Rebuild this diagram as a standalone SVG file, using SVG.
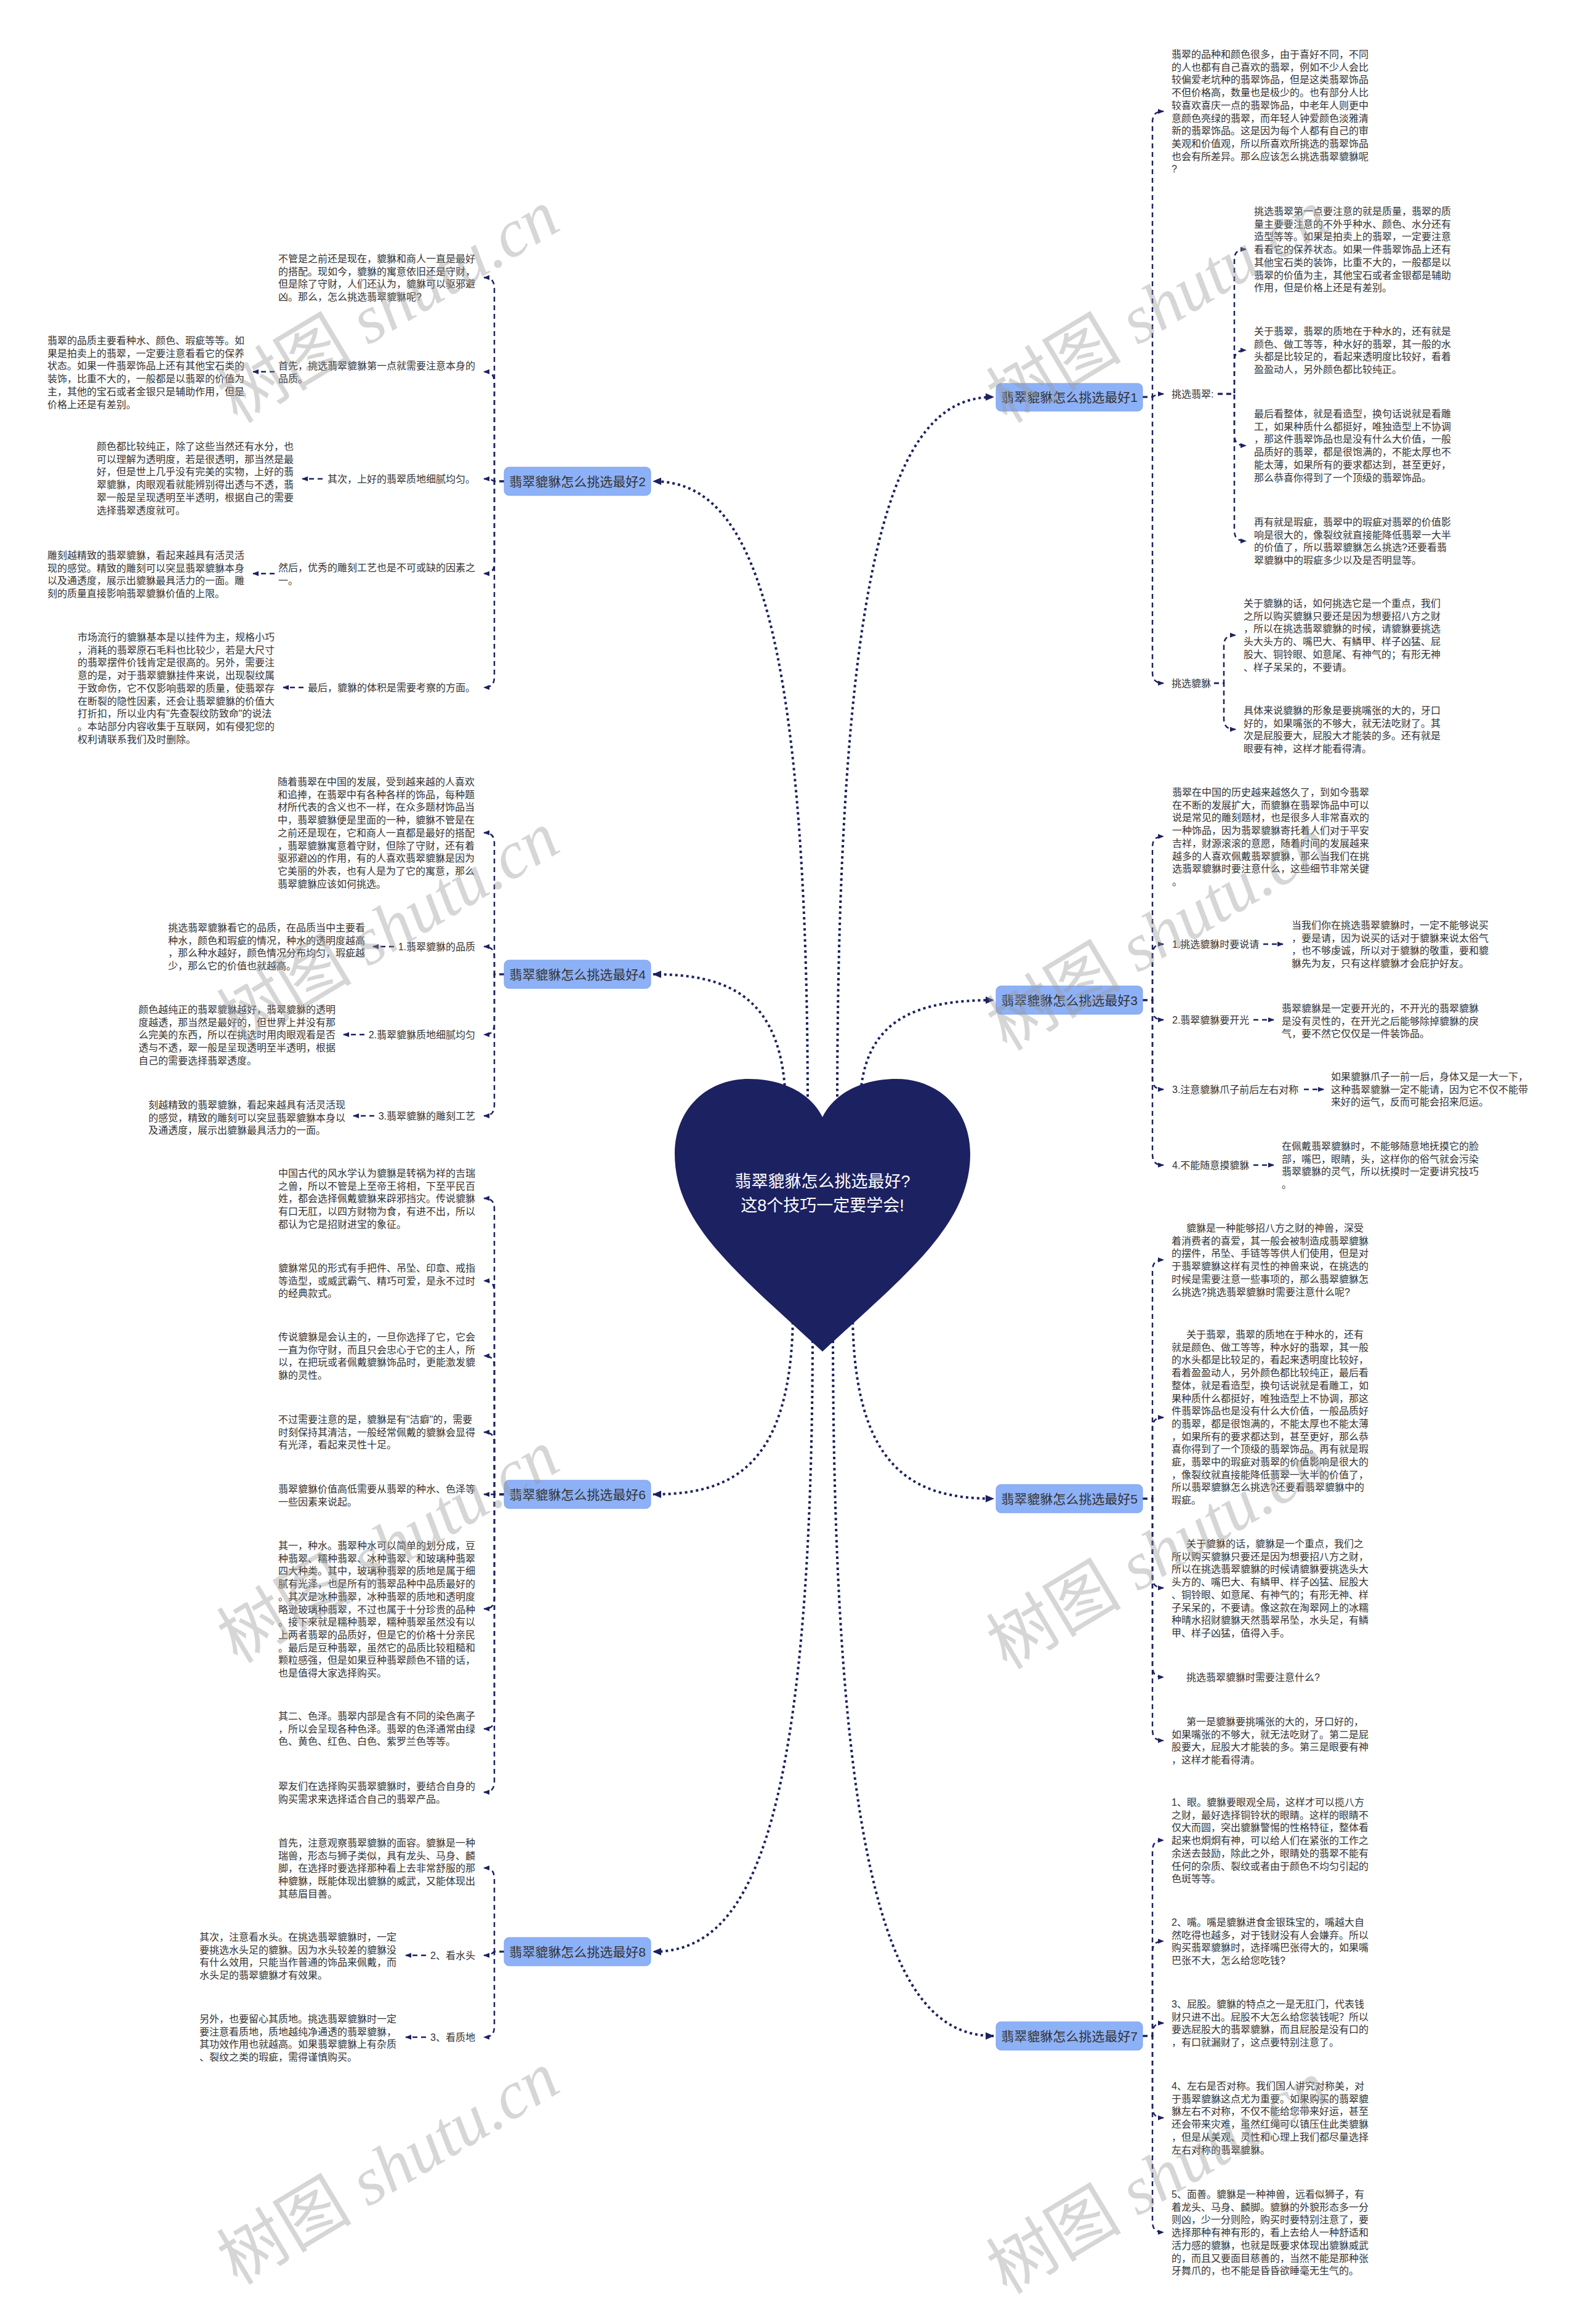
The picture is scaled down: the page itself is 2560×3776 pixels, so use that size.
<svg xmlns="http://www.w3.org/2000/svg" width="2560" height="3776" viewBox="0 0 2560 3776">
<style>
text{font-family:"Liberation Sans","Noto Sans CJK SC",sans-serif}
.p{font-size:16px;fill:#333}
.e{font-size:16px;fill:#333;text-anchor:end}
.n{font-size:21px;fill:#333;text-anchor:middle}
.t{font-size:27px;fill:#fff;text-anchor:middle}
.c{fill:none;stroke:#1c2161;stroke-width:2.5;stroke-dasharray:8 6;marker-end:url(#a)}
.m{fill:none;stroke:#1c2161;stroke-width:4;stroke-dasharray:4 5;marker-end:url(#b)}
.nb{fill:#8db1f7;stroke:#7ea3ee;stroke-width:1}
.w{font-family:"Liberation Serif","Noto Sans CJK SC",serif;font-size:110px;fill:#9a9a9a;opacity:.4;text-anchor:middle}
</style>
<defs>
<marker id="a" markerWidth="10" markerHeight="8" refX="9" refY="4" orient="auto" markerUnits="userSpaceOnUse"><path d="M0,0 L10,4 L0,8 Z" fill="#1c2161"/></marker>
<marker id="b" markerWidth="14" markerHeight="12" refX="13" refY="6" orient="auto" markerUnits="userSpaceOnUse"><path d="M0,0 L14,6 L0,12 Z" fill="#1c2161"/></marker>
</defs>
<rect width="2560" height="3776" fill="#fff"/>
<g id="connectors">
<path class="m" d="M1312 1800C1312 935 1199 782 1061 782"/>
<path class="m" d="M1276 1800C1276 1616 1179 1583 1061 1583"/>
<path class="m" d="M1360 1800C1360 818 1474 645 1614 645"/>
<path class="m" d="M1397 1800C1397 1651 1495 1625 1614 1625"/>
<path class="m" d="M1288 2130C1288 2386 1186 2428 1061 2428"/>
<path class="m" d="M1320 2160C1320 3018 1204 3171 1061 3171"/>
<path class="m" d="M1385 2130C1385 2392 1488 2435 1614 2435"/>
<path class="m" d="M1353 2160C1353 3134 1471 3308 1614 3308"/>
<path class="c" d="M1856 645H1872V199C1872 186 1877 181 1890 181"/>
<path class="c" d="M1856 645H1872Q1878 640 1890 640"/>
<path class="c" d="M1856 645H1872V1092C1872 1105 1877 1110 1890 1110"/>
<path class="c" d="M1978 640H2005V423C2005 410 2010 405 2024 405"/>
<path class="c" d="M1978 640H2005V587C2005 574 2010 569 2024 569"/>
<path class="c" d="M1978 640H2005V706C2005 719 2010 724 2024 724"/>
<path class="c" d="M1978 640H2005V861C2005 874 2010 879 2024 879"/>
<path class="c" d="M1972 1110H1988V1050C1988 1037 1993 1032 2007 1032"/>
<path class="c" d="M1972 1110H1988V1167C1988 1180 1993 1185 2007 1185"/>
<path class="c" d="M1856 1625H1872V1377C1872 1364 1877 1359 1890 1359"/>
<path class="c" d="M1856 1625H1872V1552C1872 1539 1877 1534 1890 1534"/>
<path class="c" d="M1856 1625H1872V1639C1872 1652 1877 1657 1890 1657"/>
<path class="c" d="M1856 1625H1872V1752C1872 1765 1877 1770 1890 1770"/>
<path class="c" d="M1856 1625H1872V1875C1872 1888 1877 1893 1890 1893"/>
<path class="c" d="M2052 1534H2084"/>
<path class="c" d="M2036 1657H2069"/>
<path class="c" d="M2118 1770H2150"/>
<path class="c" d="M2036 1893H2069"/>
<path class="c" d="M1856 2435H1872V2065C1872 2052 1877 2047 1890 2047"/>
<path class="c" d="M1856 2435H1872V2321C1872 2308 1877 2303 1890 2303"/>
<path class="c" d="M1856 2435H1872V2562C1872 2575 1877 2580 1890 2580"/>
<path class="c" d="M1856 2435H1872V2707C1872 2720 1877 2725 1890 2725"/>
<path class="c" d="M1856 2435H1872V2810C1872 2823 1877 2828 1890 2828"/>
<path class="c" d="M1856 3308H1872V3008C1872 2995 1877 2990 1890 2990"/>
<path class="c" d="M1856 3308H1872V3172C1872 3159 1877 3154 1890 3154"/>
<path class="c" d="M1856 3308H1872V3305C1872 3292 1877 3287 1890 3287"/>
<path class="c" d="M1856 3308H1872V3423C1872 3436 1877 3441 1890 3441"/>
<path class="c" d="M1856 3308H1872V3609C1872 3622 1877 3627 1890 3627"/>
<path class="c" d="M819 782H803V469C803 456 798 451 786 451"/>
<path class="c" d="M819 782H803V622C803 609 798 604 786 604"/>
<path class="c" d="M819 782H803Q797 778 786 778"/>
<path class="c" d="M819 782H803V914C803 927 798 932 786 932"/>
<path class="c" d="M819 782H803V1099C803 1112 798 1117 786 1117"/>
<path class="c" d="M446 604H411"/>
<path class="c" d="M524 778H491"/>
<path class="c" d="M446 932H411"/>
<path class="c" d="M493 1117H460"/>
<path class="c" d="M819 1583H803V1371C803 1358 798 1353 786 1353"/>
<path class="c" d="M819 1583H803V1556C803 1543 798 1538 786 1538"/>
<path class="c" d="M819 1583H803V1663C803 1676 798 1681 786 1681"/>
<path class="c" d="M819 1583H803V1795C803 1808 798 1813 786 1813"/>
<path class="c" d="M640 1538H606"/>
<path class="c" d="M592 1681H558"/>
<path class="c" d="M608 1813H574"/>
<path class="c" d="M819 2428H803V1965C803 1952 798 1947 786 1947"/>
<path class="c" d="M819 2428H803V2099C803 2086 798 2081 786 2081"/>
<path class="c" d="M819 2428H803V2221C803 2208 798 2203 786 2203"/>
<path class="c" d="M819 2428H803V2345C803 2332 798 2327 786 2327"/>
<path class="c" d="M819 2428H786"/>
<path class="c" d="M819 2428H803V2596C803 2609 798 2614 786 2614"/>
<path class="c" d="M819 2428H803V2791C803 2804 798 2809 786 2809"/>
<path class="c" d="M819 2428H803V2894C803 2907 798 2912 786 2912"/>
<path class="c" d="M819 3171H803V3053C803 3040 798 3035 786 3035"/>
<path class="c" d="M819 3171H803Q797 3177 786 3177"/>
<path class="c" d="M819 3171H803V3292C803 3305 798 3310 786 3310"/>
<path class="c" d="M692 3177H659"/>
<path class="c" d="M692 3310H659"/>
</g>
<g id="center">
<path d="M1336 1815C1316 1775 1270 1753 1216 1753C1150 1753 1096 1800 1096 1875C1096 1990 1200 2070 1336 2196C1472 2070 1576 1990 1576 1875C1576 1800 1522 1753 1456 1753C1402 1753 1356 1775 1336 1815Z" fill="#1c2161"/>
<text class="t" x="1336" y="1929">翡翠貔貅怎么挑选最好?</text>
<text class="t" x="1336" y="1968">这8个技巧一定要学会!</text>
</g>
<g id="node1"><rect class="nb" x="1618" y="623" width="238" height="45" rx="8"/><text class="n" x="1737" y="653">翡翠貔貅怎么挑选最好1</text></g>
<g id="node3"><rect class="nb" x="1618" y="1602" width="238" height="46" rx="8"/><text class="n" x="1737" y="1633">翡翠貔貅怎么挑选最好3</text></g>
<g id="node5"><rect class="nb" x="1618" y="2412" width="238" height="46" rx="8"/><text class="n" x="1737" y="2443">翡翠貔貅怎么挑选最好5</text></g>
<g id="node7"><rect class="nb" x="1618" y="3285" width="238" height="46" rx="8"/><text class="n" x="1737" y="3316">翡翠貔貅怎么挑选最好7</text></g>
<g id="node2"><rect class="nb" x="819" y="759" width="238" height="46" rx="8"/><text class="n" x="938" y="790">翡翠貔貅怎么挑选最好2</text></g>
<g id="node4"><rect class="nb" x="819" y="1560" width="238" height="46" rx="8"/><text class="n" x="938" y="1591">翡翠貔貅怎么挑选最好4</text></g>
<g id="node6"><rect class="nb" x="819" y="2405" width="238" height="46" rx="8"/><text class="n" x="938" y="2436">翡翠貔貅怎么挑选最好6</text></g>
<g id="node8"><rect class="nb" x="819" y="3148" width="238" height="46" rx="8"/><text class="n" x="938" y="3179">翡翠貔貅怎么挑选最好8</text></g>

<g id="b1-intro"><text class="p" x="1903" y="94"><tspan x="1903">翡翠的品种和颜色很多，由于喜好不同，不同</tspan><tspan x="1903" dy="20.7">的人也都有自己喜欢的翡翠，例如不少人会比</tspan><tspan x="1903" dy="20.7">较偏爱老坑种的翡翠饰品，但是这类翡翠饰品</tspan><tspan x="1903" dy="20.7">不但价格高，数量也是极少的。也有部分人比</tspan><tspan x="1903" dy="20.7">较喜欢喜庆一点的翡翠饰品，中老年人则更中</tspan><tspan x="1903" dy="20.7">意颜色亮绿的翡翠，而年轻人钟爱颜色淡雅清</tspan><tspan x="1903" dy="20.7">新的翡翠饰品。这是因为每个人都有自己的审</tspan><tspan x="1903" dy="20.7">美观和价值观，所以所喜欢所挑选的翡翠饰品</tspan><tspan x="1903" dy="20.7">也会有所差异。那么应该怎么挑选翡翠貔貅呢</tspan><tspan x="1903" dy="20.7">?</tspan></text></g>
<g id="b1-la"><text class="p" x="1903" y="646">挑选翡翠:</text></g>
<g id="b1-p1"><text class="p" x="2037" y="349"><tspan x="2037">挑选翡翠第一点要注意的就是质量，翡翠的质</tspan><tspan x="2037" dy="20.7">量主要要注意的不外乎种水、颜色、水分还有</tspan><tspan x="2037" dy="20.7">造型等等。如果是拍卖上的翡翠，一定要注意</tspan><tspan x="2037" dy="20.7">看看它的保养状态。如果一件翡翠饰品上还有</tspan><tspan x="2037" dy="20.7">其他宝石类的装饰，比重不大的，一般都是以</tspan><tspan x="2037" dy="20.7">翡翠的价值为主，其他宝石或者金银都是辅助</tspan><tspan x="2037" dy="20.7">作用，但是价格上还是有差别。</tspan></text></g>
<g id="b1-p2"><text class="p" x="2037" y="544"><tspan x="2037">关于翡翠，翡翠的质地在于种水的，还有就是</tspan><tspan x="2037" dy="20.7">颜色、做工等等，种水好的翡翠，其一般的水</tspan><tspan x="2037" dy="20.7">头都是比较足的，看起来透明度比较好，看着</tspan><tspan x="2037" dy="20.7">盈盈动人，另外颜色都比较纯正。</tspan></text></g>
<g id="b1-p3"><text class="p" x="2037" y="678"><tspan x="2037">最后看整体，就是看造型，换句话说就是看雕</tspan><tspan x="2037" dy="20.7">工，如果种质什么都挺好，唯独造型上不协调</tspan><tspan x="2037" dy="20.7">，那这件翡翠饰品也是没有什么大价值，一般</tspan><tspan x="2037" dy="20.7">品质好的翡翠，都是很饱满的，不能太厚也不</tspan><tspan x="2037" dy="20.7">能太薄，如果所有的要求都达到，甚至更好，</tspan><tspan x="2037" dy="20.7">那么恭喜你得到了一个顶级的翡翠饰品。</tspan></text></g>
<g id="b1-p4"><text class="p" x="2037" y="854"><tspan x="2037">再有就是瑕疵，翡翠中的瑕疵对翡翠的价值影</tspan><tspan x="2037" dy="20.7">响是很大的，像裂纹就直接能降低翡翠一大半</tspan><tspan x="2037" dy="20.7">的价值了，所以翡翠貔貅怎么挑选?还要看翡</tspan><tspan x="2037" dy="20.7">翠貔貅中的瑕疵多少以及是否明显等。</tspan></text></g>
<g id="b1-lb"><text class="p" x="1903" y="1116">挑选貔貅</text></g>
<g id="b1-p5"><text class="p" x="2020" y="986"><tspan x="2020">关于貔貅的话，如何挑选它是一个重点，我们</tspan><tspan x="2020" dy="20.7">之所以购买貔貅只要还是因为想要招八方之财</tspan><tspan x="2020" dy="20.7">，所以在挑选翡翠貔貅的时候，请貔貅要挑选</tspan><tspan x="2020" dy="20.7">头大头方的、嘴巴大、有鳞甲、样子凶猛、屁</tspan><tspan x="2020" dy="20.7">股大、铜铃眼、如意尾、有神气的；有形无神</tspan><tspan x="2020" dy="20.7">、样子呆呆的，不要请。</tspan></text></g>
<g id="b1-p6"><text class="p" x="2020" y="1160"><tspan x="2020">具体来说貔貅的形象是要挑嘴张的大的，牙口</tspan><tspan x="2020" dy="20.7">好的，如果嘴张的不够大，就无法吃财了。其</tspan><tspan x="2020" dy="20.7">次是屁股要大，屁股大才能装的多。还有就是</tspan><tspan x="2020" dy="20.7">眼要有神，这样才能看得清。</tspan></text></g>

<g id="b3-intro"><text class="p" x="1904" y="1293"><tspan x="1904">翡翠在中国的历史越来越悠久了，到如今翡翠</tspan><tspan x="1904" dy="20.7">在不断的发展扩大，而貔貅在翡翠饰品中可以</tspan><tspan x="1904" dy="20.7">说是常见的雕刻题材，也是很多人非常喜欢的</tspan><tspan x="1904" dy="20.7">一种饰品，因为翡翠貔貅寄托着人们对于平安</tspan><tspan x="1904" dy="20.7">吉祥，财源滚滚的意愿，随着时间的发展越来</tspan><tspan x="1904" dy="20.7">越多的人喜欢佩戴翡翠貔貅，那么当我们在挑</tspan><tspan x="1904" dy="20.7">选翡翠貔貅时要注意什么，这些细节非常关键</tspan><tspan x="1904" dy="20.7">。</tspan></text></g>
<g id="b3-l1"><text class="p" x="1904" y="1540">1.挑选貔貅时要说请</text></g>
<g id="b3-p1"><text class="p" x="2098" y="1509"><tspan x="2098">当我们你在挑选翡翠貔貅时，一定不能够说买</tspan><tspan x="2098" dy="20.7">，要是请，因为说买的话对于貔貅来说太俗气</tspan><tspan x="2098" dy="20.7">，也不够虔诚，所以对于貔貅的敬重，要和貔</tspan><tspan x="2098" dy="20.7">貅先为友，只有这样貔貅才会庇护好友。</tspan></text></g>
<g id="b3-l2"><text class="p" x="1904" y="1663">2.翡翠貔貅要开光</text></g>
<g id="b3-p2"><text class="p" x="2082" y="1644"><tspan x="2082">翡翠貔貅是一定要开光的，不开光的翡翠貔貅</tspan><tspan x="2082" dy="20.7">是没有灵性的，在开光之后能够除掉貔貅的戾</tspan><tspan x="2082" dy="20.7">气，要不然它仅仅是一件装饰品。</tspan></text></g>
<g id="b3-l3"><text class="p" x="1904" y="1776">3.注意貔貅爪子前后左右对称</text></g>
<g id="b3-p3"><text class="p" x="2162" y="1755"><tspan x="2162">如果貔貅爪子一前一后，身体又是一大一下，</tspan><tspan x="2162" dy="20.7">这种翡翠貔貅一定不能请，因为它不仅不能带</tspan><tspan x="2162" dy="20.7">来好的运气，反而可能会招来厄运。</tspan></text></g>
<g id="b3-l4"><text class="p" x="1904" y="1899">4.不能随意摸貔貅</text></g>
<g id="b3-p4"><text class="p" x="2082" y="1868"><tspan x="2082">在佩戴翡翠貔貅时，不能够随意地抚摸它的脸</tspan><tspan x="2082" dy="20.7">部，嘴巴，眼睛，头，这样你的俗气就会污染</tspan><tspan x="2082" dy="20.7">翡翠貔貅的灵气，所以抚摸时一定要讲究技巧</tspan><tspan x="2082" dy="20.7">。</tspan></text></g>

<g id="b5-p0"><text class="p" x="1927" y="2001"><tspan x="1927">貔貅是一种能够招八方之财的神兽，深受</tspan><tspan x="1903" dy="20.7">着消费者的喜爱，其一般会被制造成翡翠貔貅</tspan><tspan x="1903" dy="20.7">的摆件，吊坠、手链等等供人们使用，但是对</tspan><tspan x="1903" dy="20.7">于翡翠貔貅这样有灵性的神兽来说，在挑选的</tspan><tspan x="1903" dy="20.7">时候是需要注意一些事项的，那么翡翠貔貅怎</tspan><tspan x="1903" dy="20.7">么挑选?挑选翡翠貔貅时需要注意什么呢?</tspan></text></g>
<g id="b5-p1"><text class="p" x="1927" y="2174"><tspan x="1927">关于翡翠，翡翠的质地在于种水的，还有</tspan><tspan x="1903" dy="20.7">就是颜色、做工等等，种水好的翡翠，其一般</tspan><tspan x="1903" dy="20.7">的水头都是比较足的，看起来透明度比较好，</tspan><tspan x="1903" dy="20.7">看着盈盈动人，另外颜色都比较纯正，最后看</tspan><tspan x="1903" dy="20.7">整体，就是看造型，换句话说就是看雕工，如</tspan><tspan x="1903" dy="20.7">果种质什么都挺好，唯独造型上不协调，那这</tspan><tspan x="1903" dy="20.7">件翡翠饰品也是没有什么大价值，一般品质好</tspan><tspan x="1903" dy="20.7">的翡翠，都是很饱满的，不能太厚也不能太薄</tspan><tspan x="1903" dy="20.7">，如果所有的要求都达到，甚至更好，那么恭</tspan><tspan x="1903" dy="20.7">喜你得到了一个顶级的翡翠饰品。再有就是瑕</tspan><tspan x="1903" dy="20.7">疵，翡翠中的瑕疵对翡翠的价值影响是很大的</tspan><tspan x="1903" dy="20.7">，像裂纹就直接能降低翡翠一大半的价值了，</tspan><tspan x="1903" dy="20.7">所以翡翠貔貅怎么挑选?还要看翡翠貔貅中的</tspan><tspan x="1903" dy="20.7">瑕疵。</tspan></text></g>
<g id="b5-p2"><text class="p" x="1927" y="2514"><tspan x="1927">关于貔貅的话，貔貅是一个重点，我们之</tspan><tspan x="1903" dy="20.7">所以购买貔貅只要还是因为想要招八方之财，</tspan><tspan x="1903" dy="20.7">所以在挑选翡翠貔貅的时候请貔貅要挑选头大</tspan><tspan x="1903" dy="20.7">头方的、嘴巴大、有鳞甲、样子凶猛、屁股大</tspan><tspan x="1903" dy="20.7">、铜铃眼、如意尾、有神气的；有形无神、样</tspan><tspan x="1903" dy="20.7">子呆呆的，不要请。像这款在淘翠网上的冰糯</tspan><tspan x="1903" dy="20.7">种晴水招财貔貅天然翡翠吊坠，水头足，有鳞</tspan><tspan x="1903" dy="20.7">甲、样子凶猛，值得入手。</tspan></text></g>
<g id="b5-p3"><text class="p" x="1927" y="2731">挑选翡翠貔貅时需要注意什么?</text></g>
<g id="b5-p4"><text class="p" x="1927" y="2803"><tspan x="1927">第一是貔貅要挑嘴张的大的，牙口好的，</tspan><tspan x="1903" dy="20.7">如果嘴张的不够大，就无法吃财了。第二是屁</tspan><tspan x="1903" dy="20.7">股要大，屁股大才能装的多。第三是眼要有神</tspan><tspan x="1903" dy="20.7">，这样才能看得清。</tspan></text></g>

<g id="b7-p1"><text class="p" x="1903" y="2934"><tspan x="1903">1、眼。貔貅要眼观全局，这样才可以揽八方</tspan><tspan x="1903" dy="20.7">之财，最好选择铜铃状的眼睛。这样的眼睛不</tspan><tspan x="1903" dy="20.7">仅大而圆，突出貔貅警惕的性格特征，整体看</tspan><tspan x="1903" dy="20.7">起来也炯炯有神，可以给人们在紧张的工作之</tspan><tspan x="1903" dy="20.7">余送去鼓励，除此之外，眼睛处的翡翠不能有</tspan><tspan x="1903" dy="20.7">任何的杂质、裂纹或者由于颜色不均匀引起的</tspan><tspan x="1903" dy="20.7">色斑等等。</tspan></text></g>
<g id="b7-p2"><text class="p" x="1903" y="3129"><tspan x="1903">2、嘴。嘴是貔貅进食金银珠宝的，嘴越大自</tspan><tspan x="1903" dy="20.7">然吃得也越多，对于钱财没有人会嫌弃。所以</tspan><tspan x="1903" dy="20.7">购买翡翠貔貅时，选择嘴巴张得大的，如果嘴</tspan><tspan x="1903" dy="20.7">巴张不大，怎么给您吃钱?</tspan></text></g>
<g id="b7-p3"><text class="p" x="1903" y="3262"><tspan x="1903">3、屁股。貔貅的特点之一是无肛门，代表钱</tspan><tspan x="1903" dy="20.7">财只进不出。屁股不大怎么给您装钱呢？所以</tspan><tspan x="1903" dy="20.7">要选屁股大的翡翠貔貅，而且屁股是没有口的</tspan><tspan x="1903" dy="20.7">，有口就漏财了，这点要特别注意了。</tspan></text></g>
<g id="b7-p4"><text class="p" x="1903" y="3395"><tspan x="1903">4、左右是否对称。我们国人讲究对称美，对</tspan><tspan x="1903" dy="20.7">于翡翠貔貅这点尤为重要。如果购买的翡翠貔</tspan><tspan x="1903" dy="20.7">貅左右不对称，不仅不能给您带来好运，甚至</tspan><tspan x="1903" dy="20.7">还会带来灾难，虽然红绳可以镇压住此类貔貅</tspan><tspan x="1903" dy="20.7">，但是从美观、灵性和心理上我们都尽量选择</tspan><tspan x="1903" dy="20.7">左右对称的翡翠貔貅。</tspan></text></g>
<g id="b7-p5"><text class="p" x="1903" y="3571"><tspan x="1903">5、面善。貔貅是一种神兽，远看似狮子，有</tspan><tspan x="1903" dy="20.7">着龙头、马身、麟脚。貔貅的外貌形态多一分</tspan><tspan x="1903" dy="20.7">则凶，少一分则险，购买时要特别注意了，要</tspan><tspan x="1903" dy="20.7">选择那种有神有形的，看上去给人一种舒适和</tspan><tspan x="1903" dy="20.7">活力感的貔貅，也就是既要求体现出貔貅威武</tspan><tspan x="1903" dy="20.7">的，而且又要面目慈善的，当然不能是那种张</tspan><tspan x="1903" dy="20.7">牙舞爪的，也不能是昏昏欲睡毫无生气的。</tspan></text></g>

<g id="b2-p0"><text class="p" x="452" y="426"><tspan x="452">不管是之前还是现在，貔貅和商人一直是最好</tspan><tspan x="452" dy="20.7">的搭配。现如今，貔貅的寓意依旧还是守财，</tspan><tspan x="452" dy="20.7">但是除了守财，人们还认为，貔貅可以驱邪避</tspan><tspan x="452" dy="20.7">凶。那么，怎么挑选翡翠貔貅呢?</tspan></text></g>
<g id="b2-l1"><text class="p" x="452" y="600"><tspan x="452">首先，挑选翡翠貔貅第一点就需要注意本身的</tspan><tspan x="452" dy="20.7">品质。</tspan></text></g>
<g id="b2-p1"><text class="p" x="77" y="559"><tspan x="77">翡翠的品质主要看种水、颜色、瑕疵等等。如</tspan><tspan x="77" dy="20.7">果是拍卖上的翡翠，一定要注意看看它的保养</tspan><tspan x="77" dy="20.7">状态。如果一件翡翠饰品上还有其他宝石类的</tspan><tspan x="77" dy="20.7">装饰，比重不大的，一般都是以翡翠的价值为</tspan><tspan x="77" dy="20.7">主，其他的宝石或者金银只是辅助作用，但是</tspan><tspan x="77" dy="20.7">价格上还是有差别。</tspan></text></g>
<g id="b2-l2"><text class="e" x="772" y="784">其次，上好的翡翠质地细腻均匀。</text></g>
<g id="b2-p2"><text class="p" x="157" y="731"><tspan x="157">颜色都比较纯正，除了这些当然还有水分，也</tspan><tspan x="157" dy="20.7">可以理解为透明度，若是很透明，那当然是最</tspan><tspan x="157" dy="20.7">好，但是世上几乎没有完美的实物，上好的翡</tspan><tspan x="157" dy="20.7">翠貔貅，肉眼观看就能辨别得出透与不透，翡</tspan><tspan x="157" dy="20.7">翠一般是呈现透明至半透明，根据自己的需要</tspan><tspan x="157" dy="20.7">选择翡翠透度就可。</tspan></text></g>
<g id="b2-l3"><text class="p" x="452" y="928"><tspan x="452">然后，优秀的雕刻工艺也是不可或缺的因素之</tspan><tspan x="452" dy="20.7">一。</tspan></text></g>
<g id="b2-p3"><text class="p" x="77" y="908"><tspan x="77">雕刻越精致的翡翠貔貅，看起来越具有活灵活</tspan><tspan x="77" dy="20.7">现的感觉。精致的雕刻可以突显翡翠貔貅本身</tspan><tspan x="77" dy="20.7">以及通透度，展示出貔貅最具活力的一面。雕</tspan><tspan x="77" dy="20.7">刻的质量直接影响翡翠貔貅价值的上限。</tspan></text></g>
<g id="b2-l4"><text class="e" x="772" y="1123">最后，貔貅的体积是需要考察的方面。</text></g>
<g id="b2-p4"><text class="p" x="126" y="1041"><tspan x="126">市场流行的貔貅基本是以挂件为主，规格小巧</tspan><tspan x="126" dy="20.7">，消耗的翡翠原石毛料也比较少，若是大尺寸</tspan><tspan x="126" dy="20.7">的翡翠摆件价钱肯定是很高的。另外，需要注</tspan><tspan x="126" dy="20.7">意的是，对于翡翠貔貅挂件来说，出现裂纹属</tspan><tspan x="126" dy="20.7">于致命伤，它不仅影响翡翠的质量，使翡翠存</tspan><tspan x="126" dy="20.7">在断裂的隐性因素，还会让翡翠貔貅的价值大</tspan><tspan x="126" dy="20.7">打折扣，所以业内有"先查裂纹防致命"的说法</tspan><tspan x="126" dy="20.7">。本站部分内容收集于互联网，如有侵犯您的</tspan><tspan x="126" dy="20.7">权利请联系我们及时删除。</tspan></text></g>

<g id="b4-p0"><text class="p" x="451" y="1276"><tspan x="451">随着翡翠在中国的发展，受到越来越的人喜欢</tspan><tspan x="451" dy="20.7">和追捧，在翡翠中有各种各样的饰品，每种题</tspan><tspan x="451" dy="20.7">材所代表的含义也不一样，在众多题材饰品当</tspan><tspan x="451" dy="20.7">中，翡翠貔貅便是里面的一种，貔貅不管是在</tspan><tspan x="451" dy="20.7">之前还是现在，它和商人一直都是最好的搭配</tspan><tspan x="451" dy="20.7">，翡翠貔貅寓意着守财，但除了守财，还有着</tspan><tspan x="451" dy="20.7">驱邪避凶的作用，有的人喜欢翡翠貔貅是因为</tspan><tspan x="451" dy="20.7">它美丽的外表，也有人是为了它的寓意，那么</tspan><tspan x="451" dy="20.7">翡翠貔貅应该如何挑选。</tspan></text></g>
<g id="b4-l1"><text class="e" x="772" y="1544">1.翡翠貔貅的品质</text></g>
<g id="b4-p1"><text class="p" x="273" y="1513"><tspan x="273">挑选翡翠貔貅看它的品质，在品质当中主要看</tspan><tspan x="273" dy="20.7">种水，颜色和瑕疵的情况，种水的透明度越高</tspan><tspan x="273" dy="20.7">，那么种水越好，颜色情况分布均匀，瑕疵越</tspan><tspan x="273" dy="20.7">少，那么它的价值也就越高。</tspan></text></g>
<g id="b4-l2"><text class="e" x="772" y="1687">2.翡翠貔貅质地细腻均匀</text></g>
<g id="b4-p2"><text class="p" x="225" y="1646"><tspan x="225">颜色越纯正的翡翠貔貅越好，翡翠貔貅的透明</tspan><tspan x="225" dy="20.7">度越透，那当然是最好的，但世界上并没有那</tspan><tspan x="225" dy="20.7">么完美的东西，所以在挑选时用肉眼观看是否</tspan><tspan x="225" dy="20.7">透与不透，翠一般是呈现透明至半透明，根据</tspan><tspan x="225" dy="20.7">自己的需要选择翡翠透度。</tspan></text></g>
<g id="b4-l3"><text class="e" x="772" y="1819">3.翡翠貔貅的雕刻工艺</text></g>
<g id="b4-p3"><text class="p" x="241" y="1801"><tspan x="241">刻越精致的翡翠貔貅，看起来越具有活灵活现</tspan><tspan x="241" dy="20.7">的感觉，精致的雕刻可以突显翡翠貔貅本身以</tspan><tspan x="241" dy="20.7">及通透度，展示出貔貅最具活力的一面。</tspan></text></g>

<g id="b6-p0"><text class="p" x="452" y="1912"><tspan x="452">中国古代的风水学认为貔貅是转祸为祥的吉瑞</tspan><tspan x="452" dy="20.7">之兽，所以不管是上至帝王将相，下至平民百</tspan><tspan x="452" dy="20.7">姓，都会选择佩戴貔貅来辟邪挡灾。传说貔貅</tspan><tspan x="452" dy="20.7">有口无肛，以四方财物为食，有进不出，所以</tspan><tspan x="452" dy="20.7">都认为它是招财进宝的象征。</tspan></text></g>
<g id="b6-p1"><text class="p" x="452" y="2066"><tspan x="452">貔貅常见的形式有手把件、吊坠、印章、戒指</tspan><tspan x="452" dy="20.7">等造型，或威武霸气、精巧可爱，是永不过时</tspan><tspan x="452" dy="20.7">的经典款式。</tspan></text></g>
<g id="b6-p2"><text class="p" x="452" y="2178"><tspan x="452">传说貔貅是会认主的，一旦你选择了它，它会</tspan><tspan x="452" dy="20.7">一直为你守财，而且只会忠心于它的主人，所</tspan><tspan x="452" dy="20.7">以，在把玩或者佩戴貔貅饰品时，更能激发貔</tspan><tspan x="452" dy="20.7">貅的灵性。</tspan></text></g>
<g id="b6-p3"><text class="p" x="452" y="2312"><tspan x="452">不过需要注意的是，貔貅是有"洁癖"的，需要</tspan><tspan x="452" dy="20.7">时刻保持其清洁，一般经常佩戴的貔貅会显得</tspan><tspan x="452" dy="20.7">有光泽，看起来灵性十足。</tspan></text></g>
<g id="b6-p4"><text class="p" x="452" y="2425"><tspan x="452">翡翠貔貅价值高低需要从翡翠的种水、色泽等</tspan><tspan x="452" dy="20.7">一些因素来说起。</tspan></text></g>
<g id="b6-p5"><text class="p" x="452" y="2517"><tspan x="452">其一，种水。翡翠种水可以简单的划分成，豆</tspan><tspan x="452" dy="20.7">种翡翠、糯种翡翠、冰种翡翠、和玻璃种翡翠</tspan><tspan x="452" dy="20.7">四大种类。其中，玻璃种翡翠的质地是属于细</tspan><tspan x="452" dy="20.7">腻有光泽，也是所有的翡翠品种中品质最好的</tspan><tspan x="452" dy="20.7">。其次是冰种翡翠，冰种翡翠的质地和透明度</tspan><tspan x="452" dy="20.7">略逊玻璃种翡翠，不过也属于十分珍贵的品种</tspan><tspan x="452" dy="20.7">。接下来就是糯种翡翠，糯种翡翠虽然没有以</tspan><tspan x="452" dy="20.7">上两者翡翠的品质好，但是它的价格十分亲民</tspan><tspan x="452" dy="20.7">。最后是豆种翡翠，虽然它的品质比较粗糙和</tspan><tspan x="452" dy="20.7">颗粒感强，但是如果豆种翡翠颜色不错的话，</tspan><tspan x="452" dy="20.7">也是值得大家选择购买。</tspan></text></g>
<g id="b6-p6"><text class="p" x="452" y="2794"><tspan x="452">其二、色泽。翡翠内部是含有不同的染色离子</tspan><tspan x="452" dy="20.7">，所以会呈现各种色泽。翡翠的色泽通常由绿</tspan><tspan x="452" dy="20.7">色、黄色、红色、白色、紫罗兰色等等。</tspan></text></g>
<g id="b6-p7"><text class="p" x="452" y="2908"><tspan x="452">翠友们在选择购买翡翠貔貅时，要结合自身的</tspan><tspan x="452" dy="20.7">购买需求来选择适合自己的翡翠产品。</tspan></text></g>

<g id="b8-p0"><text class="p" x="452" y="3000"><tspan x="452">首先，注意观察翡翠貔貅的面容。貔貅是一种</tspan><tspan x="452" dy="20.7">瑞兽，形态与狮子类似，具有龙头、马身、麟</tspan><tspan x="452" dy="20.7">脚，在选择时要选择那种看上去非常舒服的那</tspan><tspan x="452" dy="20.7">种貔貅，既能体现出貔貅的威武，又能体现出</tspan><tspan x="452" dy="20.7">其慈眉目善。</tspan></text></g>
<g id="b8-l1"><text class="e" x="772" y="3183">2、看水头</text></g>
<g id="b8-p1"><text class="p" x="324" y="3153"><tspan x="324">其次，注意看水头。在挑选翡翠貔貅时，一定</tspan><tspan x="324" dy="20.7">要挑选水头足的貔貅。因为水头较差的貔貅没</tspan><tspan x="324" dy="20.7">有什么效用，只能当作普通的饰品来佩戴，而</tspan><tspan x="324" dy="20.7">水头足的翡翠貔貅才有效果。</tspan></text></g>
<g id="b8-l2"><text class="e" x="772" y="3316">3、看质地</text></g>
<g id="b8-p2"><text class="p" x="324" y="3286"><tspan x="324">另外，也要留心其质地。挑选翡翠貔貅时一定</tspan><tspan x="324" dy="20.7">要注意看质地，质地越纯净通透的翡翠貔貅，</tspan><tspan x="324" dy="20.7">其功效作用也就越高。如果翡翠貔貅上有杂质</tspan><tspan x="324" dy="20.7">、裂纹之类的瑕疵，需得谨慎购买。</tspan></text></g>

<g id="watermarks">
<text class="w" transform="translate(650,530) rotate(-31)">树图 <tspan font-style="italic">shutu.cn</tspan></text>
<text class="w" transform="translate(1900,530) rotate(-31)">树图 <tspan font-style="italic">shutu.cn</tspan></text>
<text class="w" transform="translate(650,1540) rotate(-31)">树图 <tspan font-style="italic">shutu.cn</tspan></text>
<text class="w" transform="translate(1900,1550) rotate(-31)">树图 <tspan font-style="italic">shutu.cn</tspan></text>
<text class="w" transform="translate(650,2545) rotate(-31)">树图 <tspan font-style="italic">shutu.cn</tspan></text>
<text class="w" transform="translate(1900,2555) rotate(-31)">树图 <tspan font-style="italic">shutu.cn</tspan></text>
<text class="w" transform="translate(650,3555) rotate(-31)">树图 <tspan font-style="italic">shutu.cn</tspan></text>
<text class="w" transform="translate(1900,3570) rotate(-31)">树图 <tspan font-style="italic">shutu.cn</tspan></text>
</g>
</svg>
